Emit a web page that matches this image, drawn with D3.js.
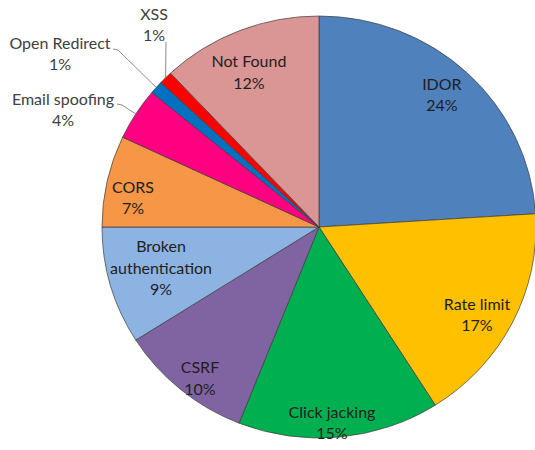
<!DOCTYPE html>
<html>
<head>
    <script src="https://d3js.org/d3.v7.min.js"></script>
    <style>
        body { margin: 0; background: #fff; }
        .lbl { font: 16px Lato, sans-serif; fill: #1e1e1e; text-anchor: middle; }
        .out { fill: #404040; }
        .leader { fill: none; stroke: #8c8c8c; stroke-width: 1px; }
    </style>
</head>
<body>
    <svg width="535" height="450"></svg>
    <script>
        var categories = ["IDOR", "Rate limit", "Click jacking", "CSRF", "Broken authentication",
                          "CORS", "Email spoofing", "Open Redirect", "XSS", "Not Found"];
        var percents = [24, 17, 15, 10, 9, 7, 4, 1, 1, 12];
        var colors = ["#4f81bd", "#ffc000", "#00b050", "#8064a2", "#8db3e2",
                      "#f79646", "#ff0080", "#0070c0", "#ff0000", "#d99694"];

        var data = categories.map(function(c, i) {
            return { name: c, value: percents[i], color: colors[i] };
        });

        var svg = d3.select("svg");
        var cx = 319, cy = 227, rx = 217, ry = 211;

        var pie = d3.pie().sort(null).value(function(d) { return d.value; });
        var arcs = pie(data);
        var arc = d3.arc().innerRadius(0).outerRadius(rx);

        // the original is squashed slightly in height
        var g = svg.append("g").attr("transform", "translate(" + cx + "," + cy + ")");
        g.append("g").attr("transform", "scale(1," + (ry / rx) + ")")
            .selectAll("path")
            .data(arcs)
            .enter().append("path")
            .attr("d", arc)
            .attr("fill", function(d) { return d.data.color; })
            .attr("stroke", "#3c3c3c")
            .attr("stroke-width", 0.7)
            .attr("vector-effect", "non-scaling-stroke");

        // label placement inside slices: radius fraction and angle nudge (deg)
        var inside = {
            "IDOR": [0.843, -1],
            "Rate limit": [0.839, 2.8],
            "Click jacking": [0.93, 1.7],
            "CSRF": [0.903, -2.2],
            "Broken authentication": [0.754, 1.1],
            "CORS": [0.868, -3.5],
            "Not Found": [0.80, -2.2]
        };
        // outside labels: text centre and bend point of leader
        var outside = {
            "Email spoofing": { x: 63, y: 110, bend: [122, 105], from: [117, 104] },
            "Open Redirect": { x: 60, y: 54, bend: [118, 50], from: [113, 49] },
            "XSS": { x: 154, y: 25, bend: [166, 42], from: [166, 42] }
        };

        function point(a, f) {
            return [Math.sin(a) * f * rx, -Math.cos(a) * f * ry];
        }

        arcs.forEach(function(d) {
            var mid = (d.startAngle + d.endAngle) / 2;
            var lines = d.data.name === "Broken authentication"
                ? ["Broken", "authentication", d.data.value + "%"]
                : [d.data.name, d.data.value + "%"];
            var x, y, cls = "lbl";
            if (inside[d.data.name]) {
                var o = inside[d.data.name];
                var p = point(mid + o[1] * Math.PI / 180, o[0]);
                x = cx + p[0]; y = cy + p[1];
            } else {
                var q = outside[d.data.name];
                x = q.x; y = q.y; cls = "lbl out";
                var e = point(mid, 1);
                svg.append("path").attr("class", "leader")
                    .attr("d", d3.line()([q.from, q.bend, [cx + e[0], cy + e[1]]]));
            }
            var lh = 21.5;
            var t = svg.append("text").attr("class", cls)
                .attr("x", x)
                .attr("y", y - (lines.length - 1) * lh / 2 + 5.5);
            lines.forEach(function(s, i) {
                t.append("tspan").attr("x", x).attr("dy", i ? lh : 0).text(s);
            });
        });
    </script>
</body>
</html>
